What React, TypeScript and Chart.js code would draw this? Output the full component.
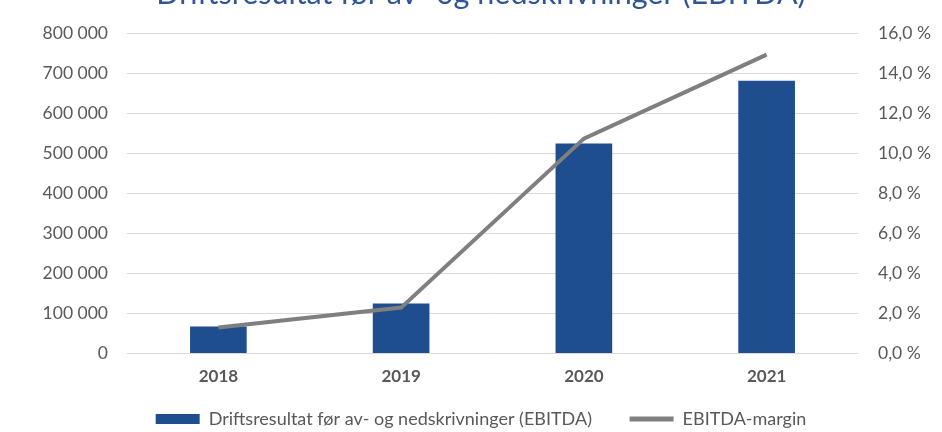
import React, { useEffect, useRef } from "react";
import { Chart, registerables } from "chart.js";

Chart.register(...registerables);

const categories = ["2018", "2019", "2020", "2021"];
const ebitdaValues = [68000, 125000, 525000, 682000];
const marginValues = [1.3, 2.3, 10.75, 14.95];
const titleText = "Driftsresultat før av- og nedskrivninger (EBITDA)";
const barLabel = "Driftsresultat før av- og nedskrivninger (EBITDA)";
const lineLabel = "EBITDA-margin";

const FONT = "Lato";
const BAR_COLOR = "#1F4E8F";
const LINE_COLOR = "#7F7F7F";
const TEXT_COLOR = "#595959";
const LEGEND_GAP = "      ";

const fmtThousands = (v: number) =>
  String(Math.round(v)).replace(/\B(?=(\d{3})+(?!\d))/g, " ");
const fmtPercent = (v: number) => v.toFixed(1).replace(".", ",") + " %";

const SHIFT = 24;
const CANVAS_H = 464;
const LEFT_PAD = 20;

export default function App() {
  const ref = useRef<HTMLCanvasElement | null>(null);

  useEffect(() => {
    if (!ref.current) return;
    const chart = new Chart(ref.current, {
      type: "bar",
      data: {
        labels: categories,
        datasets: [
          {
            type: "line",
            label: lineLabel,
            data: marginValues,
            yAxisID: "y1",
            borderColor: LINE_COLOR,
            backgroundColor: LINE_COLOR,
            borderWidth: 4,
            pointRadius: 0,
            tension: 0,
            order: 0,
          } as any,
          {
            type: "bar",
            label: barLabel,
            data: ebitdaValues,
            yAxisID: "y",
            backgroundColor: BAR_COLOR,
            barPercentage: 1,
            categoryPercentage: 0.31,
            order: 1,
          },
        ],
      },
      options: {
        responsive: false,
        animation: false,
        layout: { padding: { left: LEFT_PAD, right: 0, top: 0, bottom: 2 } },
        plugins: {
          title: {
            display: true,
            text: titleText,
            color: "#2F5597",
            font: { family: FONT, size: 30.5, weight: "normal" },
            padding: { top: 0, bottom: 21 },
          },
          tooltip: { enabled: false },
          legend: {
            position: "bottom",
            labels: {
              font: { family: FONT, size: 18 },
              color: TEXT_COLOR,
              usePointStyle: true,
              pointStyleWidth: 44,
              boxHeight: 10,
              padding: 10,
              generateLabels: () => [
                {
                  text: barLabel + LEGEND_GAP,
                  fillStyle: BAR_COLOR,
                  strokeStyle: BAR_COLOR,
                  lineWidth: 0,
                  pointStyle: "rect",
                  fontColor: TEXT_COLOR,
                  datasetIndex: 1,
                  hidden: false,
                } as any,
                {
                  text: lineLabel,
                  fillStyle: LINE_COLOR,
                  strokeStyle: LINE_COLOR,
                  lineWidth: 5,
                  pointStyle: "line",
                  fontColor: TEXT_COLOR,
                  datasetIndex: 0,
                  hidden: false,
                } as any,
              ],
            },
          },
        },
        scales: {
          x: {
            grid: { display: false, drawTicks: false },
            border: { display: false },
            ticks: {
              color: TEXT_COLOR,
              font: { family: FONT, size: 17, weight: "bold" },
              padding: 13,
            },
          },
          y: {
            position: "left",
            min: 0,
            max: 800000,
            afterFit: (scale: any) => {
              scale.width = 127 - LEFT_PAD;
            },
            ticks: {
              stepSize: 100000,
              color: TEXT_COLOR,
              font: { family: FONT, size: 17.5 },
              padding: 19,
              callback: (v: any) => fmtThousands(Number(v)),
            },
            grid: { color: "#D9D9D9", lineWidth: 1, drawTicks: false },
            border: { display: false },
          },
          y1: {
            position: "right",
            min: 0,
            max: 16,
            afterFit: (scale: any) => {
              scale.width = 84;
            },
            ticks: {
              stepSize: 2,
              color: TEXT_COLOR,
              font: { family: FONT, size: 17.5 },
              padding: 20,
              callback: (v: any) => fmtPercent(Number(v)),
            },
            grid: { display: false, drawTicks: false },
            border: { display: false },
          },
        },
      },
    });
    return () => chart.destroy();
  }, []);

  return (
    <div
      style={{
        position: "fixed",
        left: 0,
        top: 0,
        width: 942,
        height: 432,
        overflow: "hidden",
        background: "#ffffff",
      }}
    >
      <canvas
        ref={ref}
        width={942}
        height={CANVAS_H}
        style={{ position: "absolute", left: 0, top: -SHIFT, width: 942, height: CANVAS_H }}
      />
    </div>
  );
}
